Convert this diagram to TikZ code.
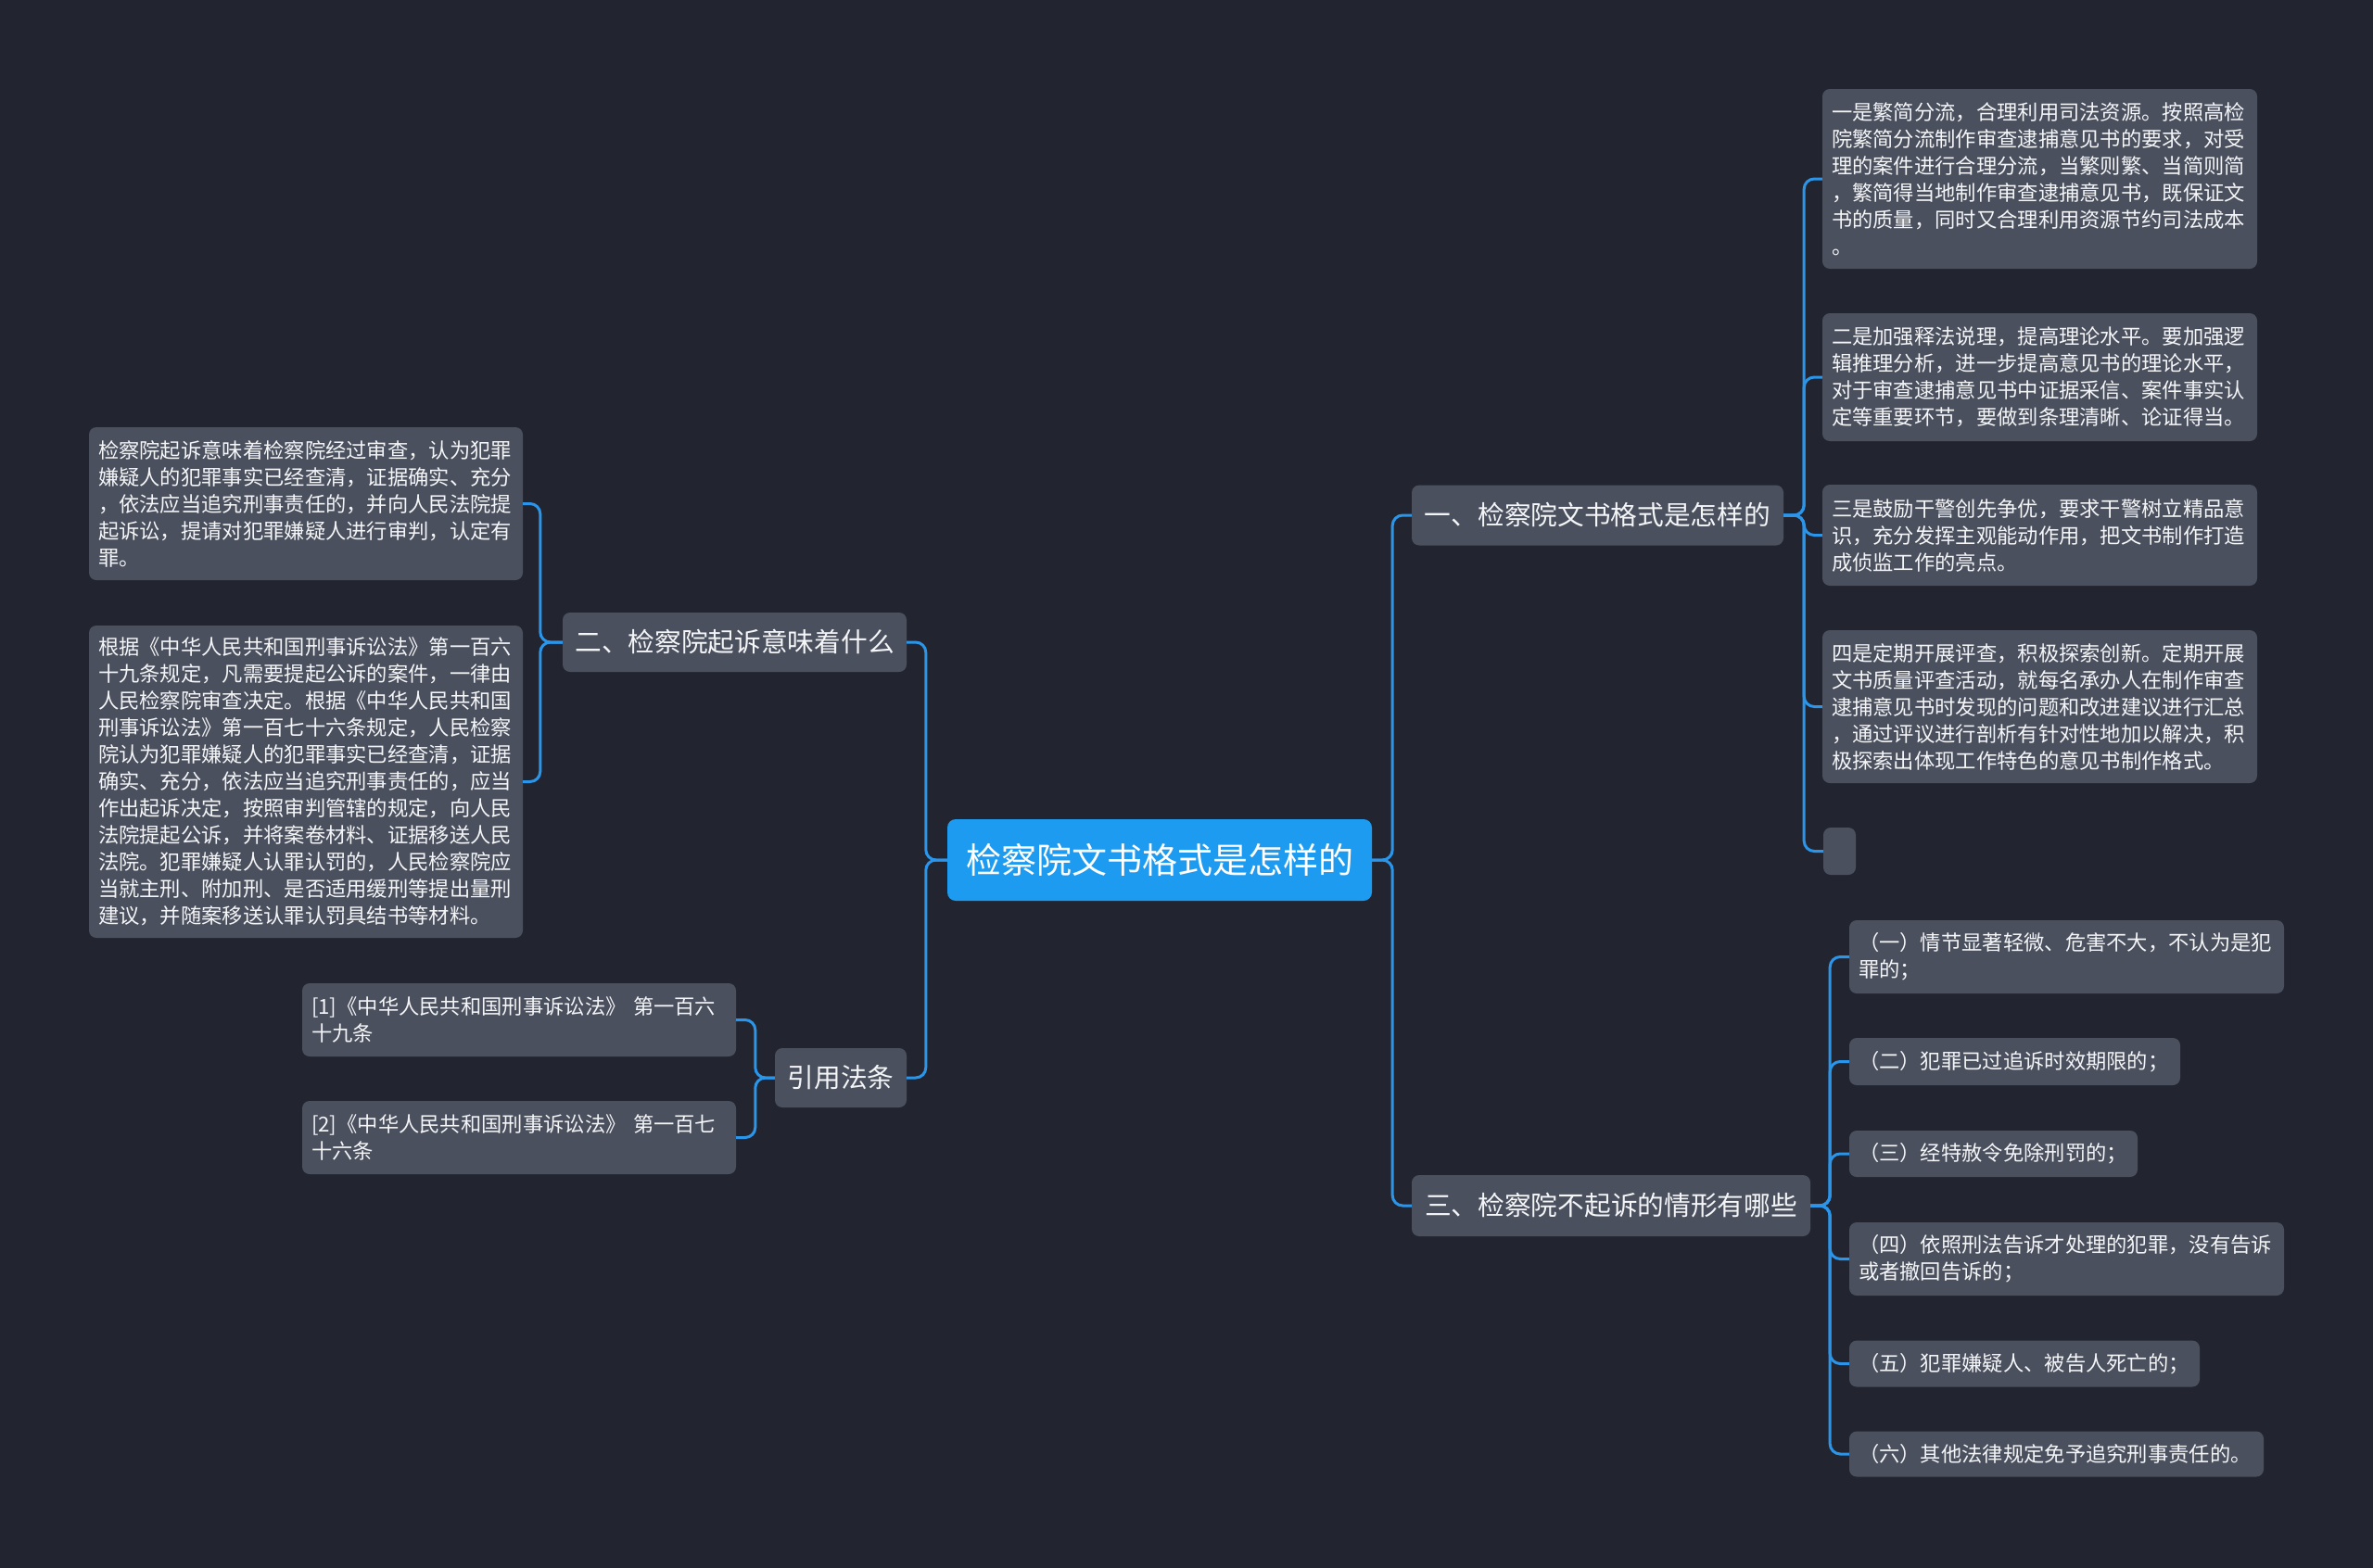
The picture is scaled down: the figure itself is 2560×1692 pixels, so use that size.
\documentclass[tikz,border=0pt]{standalone}
\usepackage{fontspec}
\setmainfont{Noto Sans CJK SC}
\definecolor{bg}{HTML}{222530}
\definecolor{nodefill}{HTML}{4A505E}
\definecolor{rootfill}{HTML}{1D9BF0}
\definecolor{linec}{HTML}{2B95E9}
\definecolor{txt}{HTML}{F4F5F7}
\begin{document}
\begin{tikzpicture}[x=1pt,y=-1pt,
  leaf/.style={fill=nodefill, rounded corners=8pt, text=txt, font=\fontsize{22.3}{29}\selectfont, align=left, inner xsep=10pt, inner ysep=0pt},
  branch/.style={fill=nodefill, rounded corners=8pt, text=txt, font=\fontsize{28.7}{34}\selectfont, inner xsep=0pt, inner ysep=0pt},
  rootbox/.style={fill=rootfill, rounded corners=9pt, text=white, font=\fontsize{38}{44}\selectfont, inner sep=0pt},
  conn/.style={draw=linec, line width=3pt, rounded corners=11pt}]
\fill[bg] (0,0) rectangle (2560,1692);
\useasboundingbox (0,0) rectangle (2560,1692);

% root
\node[rootbox, minimum width=458, minimum height=88] (root) at (1251,928) {检察院文书格式是怎样的};

% branches
\node[branch, minimum width=401, minimum height=65] (b1) at (1723.5,556) {一、检察院文书格式是怎样的};
\node[branch, minimum width=430, minimum height=66] (b3) at (1738,1301) {三、检察院不起诉的情形有哪些};
\node[branch, minimum width=371, minimum height=64] (b2) at (792.5,693) {二、检察院起诉意味着什么};
\node[branch, minimum width=142, minimum height=64] (b4) at (907,1163) {引用法条};

% leaves of b1
\node[leaf, text width=449, minimum height=194] (a1) at (2200.5,193) {一是繁简分流，合理利用司法资源。按照高检\\院繁简分流制作审查逮捕意见书的要求，对受\\理的案件进行合理分流，当繁则繁、当简则简\\，繁简得当地制作审查逮捕意见书，既保证文\\书的质量，同时又合理利用资源节约司法成本\\。};
\node[leaf, text width=449, minimum height=138] (a2) at (2200.5,407) {二是加强释法说理，提高理论水平。要加强逻\\辑推理分析，进一步提高意见书的理论水平，\\对于审查逮捕意见书中证据采信、案件事实认\\定等重要环节，要做到条理清晰、论证得当。};
\node[leaf, text width=449, minimum height=109] (a3) at (2200.5,577.5) {三是鼓励干警创先争优，要求干警树立精品意\\识，充分发挥主观能动作用，把文书制作打造\\成侦监工作的亮点。};
\node[leaf, text width=449, minimum height=165] (a4) at (2200.5,762.5) {四是定期开展评查，积极探索创新。定期开展\\文书质量评查活动，就每名承办人在制作审查\\逮捕意见书时发现的问题和改进建议进行汇总\\，通过评议进行剖析有针对性地加以解决，积\\极探索出体现工作特色的意见书制作格式。};
\node[fill=nodefill, rounded corners=8pt, inner sep=0pt, minimum width=35, minimum height=51] (a5) at (1984.5,918.5) {};

% leaves of b3
\node[leaf, text width=449, minimum height=79] (c1) at (2229.5,1032.5) {（一）情节显著轻微、危害不大，不认为是犯\\罪的；};
\node[leaf, text width=337, minimum height=51] (c2) at (2173.5,1145.5) {（二）犯罪已过追诉时效期限的；};
\node[leaf, text width=291, minimum height=50] (c3) at (2150.5,1245) {（三）经特赦令免除刑罚的；};
\node[leaf, text width=449, minimum height=79] (c4) at (2229.5,1358.5) {（四）依照刑法告诉才处理的犯罪，没有告诉\\或者撤回告诉的；};
\node[leaf, text width=358, minimum height=50] (c5) at (2184,1471.5) {（五）犯罪嫌疑人、被告人死亡的；};
\node[leaf, text width=427, minimum height=49] (c6) at (2218.5,1569) {（六）其他法律规定免予追究刑事责任的。};

% leaves of b2
\node[leaf, text width=448, minimum height=165] (l1) at (330,543.5) {检察院起诉意味着检察院经过审查，认为犯罪\\嫌疑人的犯罪事实已经查清，证据确实、充分\\，依法应当追究刑事责任的，并向人民法院提\\起诉讼，提请对犯罪嫌疑人进行审判，认定有\\罪。};
\node[leaf, text width=448, minimum height=337] (l2) at (330,843.5) {根据《中华人民共和国刑事诉讼法》第一百六\\十九条规定，凡需要提起公诉的案件，一律由\\人民检察院审查决定。根据《中华人民共和国\\刑事诉讼法》第一百七十六条规定，人民检察\\院认为犯罪嫌疑人的犯罪事实已经查清，证据\\确实、充分，依法应当追究刑事责任的，应当\\作出起诉决定，按照审判管辖的规定，向人民\\法院提起公诉，并将案卷材料、证据移送人民\\法院。犯罪嫌疑人认罪认罚的，人民检察院应\\当就主刑、附加刑、是否适用缓刑等提出量刑\\建议，并随案移送认罪认罚具结书等材料。};

% leaves of b4
\node[leaf, text width=448, minimum height=79] (r1) at (560,1100.5) {[1]《中华人民共和国刑事诉讼法》 第一百六\\十九条};
\node[leaf, text width=448, minimum height=79] (r2) at (560,1227.5) {[2]《中华人民共和国刑事诉讼法》 第一百七\\十六条};

% connectors
\foreach \t in {b1,b3} \draw[conn] (root.east) -- ++(22,0) |- (\t.west);
\foreach \t in {b2,b4} \draw[conn] (root.west) -- ++(-23,0) |- (\t.east);
\foreach \t in {a1,a2,a3,a4,a5} \draw[conn] (b1.east) -- ++(22,0) |- (\t.west);
\foreach \t in {c1,c2,c3,c4,c5,c6} \draw[conn] (b3.east) -- ++(21,0) |- (\t.west);
\foreach \t in {l1,l2} \draw[conn] (b2.west) -- ++(-24,0) |- (\t.east);
\foreach \t in {r1,r2} \draw[conn] (b4.west) -- ++(-21,0) |- (\t.east);
\end{tikzpicture}
\end{document}
